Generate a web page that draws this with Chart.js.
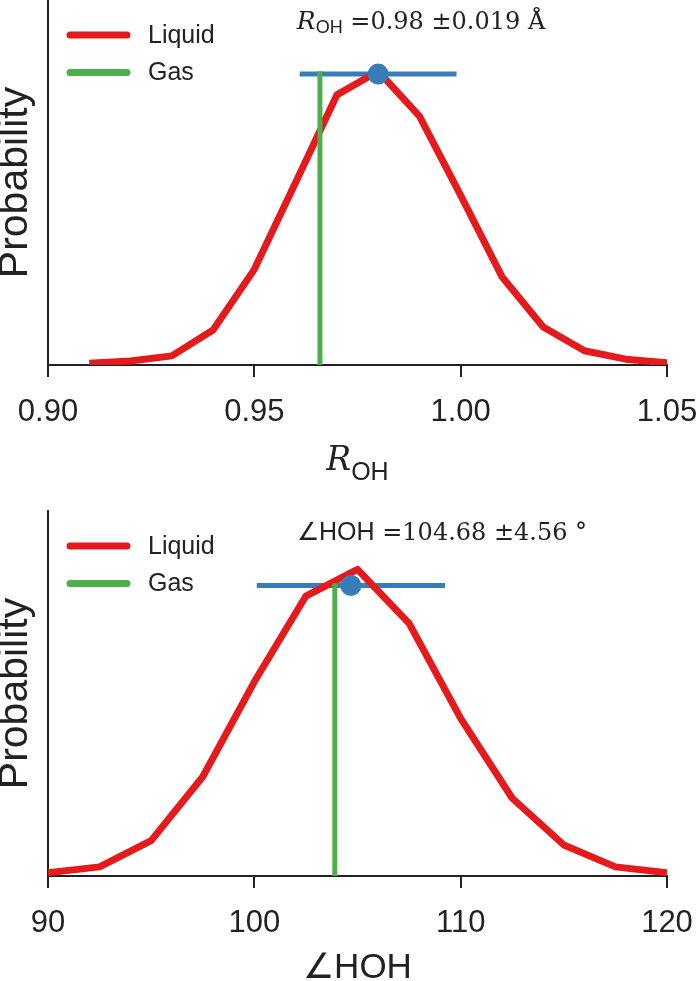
<!DOCTYPE html>
<html>
<head>
<meta charset="utf-8">
<script src="https://cdn.jsdelivr.net/npm/chart.js@4.4.1/dist/chart.umd.min.js"></script>
<style>
  html, body { margin: 0; padding: 0; background: #fff; }
  canvas { display: block; }
</style>
</head>
<body>
<canvas id="roh-chart" width="700" height="490"></canvas>
<canvas id="hoh-chart" width="700" height="491"></canvas>
<script>
// O-H bond length
const rohX = [0.91, 0.92, 0.93, 0.94, 0.95, 0.96, 0.97, 0.98, 0.99, 1.00, 1.01, 1.02, 1.03, 1.04, 1.05];
const rohLiquid = [0.005, 0.011, 0.025, 0.096, 0.262, 0.50, 0.74, 0.805, 0.682, 0.465, 0.242, 0.104, 0.039, 0.016, 0.006];
const rohTicks = [0.90, 0.95, 1.00, 1.05];
const rohGas = 0.9659;
const rohGasTop = 0.805;
const rohMean = 0.98;
const rohStd = 0.019;
const rohLevel = 0.797;

// H-O-H angle
const hohX = [90, 92.5, 95, 97.5, 100, 102.5, 105, 107.5, 110, 112.5, 115, 117.5, 120];
const hohLiquid = [0.009, 0.025, 0.097, 0.272, 0.532, 0.767, 0.840, 0.692, 0.432, 0.213, 0.085, 0.025, 0.009];
const hohTicks = [90, 100, 110, 120];
const hohGas = 103.9;
const hohGasTop = 0.802;
const hohMean = 104.68;
const hohStd = 4.56;
const hohLevel = 0.796;

const RED = '#e41a1c';
const GREEN = '#4daf4a';
const BLUE = '#377eb8';
const INK = '#222222';
const SANS = '"Liberation Sans", Arial, sans-serif';
const SERIF = '"DejaVu Serif", serif';

function drawSegments(ctx, x, y, segs, align) {
  let total = 0;
  const widths = segs.map(s => {
    ctx.font = s.font;
    const w = ctx.measureText(s.text).width;
    total += w;
    return w;
  });
  let cx = align === 'center' ? x - total / 2 : x;
  segs.forEach((s, i) => {
    ctx.font = s.font;
    ctx.fillText(s.text, cx, y + (s.dy || 0));
    cx += widths[i];
  });
}

function makeChart(id, xs, ys, ticks, gas, gasTop, mean, std, level, opts) {
  const notes = {
    id: 'notes',
    afterDraw(chart) {
      const ctx = chart.ctx;
      const area = chart.chartArea;
      const sx = chart.scales.x;
      const sy = chart.scales.y;
      ctx.save();
      // legend
      ['Liquid', 'Gas'].forEach((name, i) => {
        const ds = chart.data.datasets.find(d => d.label === name);
        const y = area.top + 35 + i * 37.5;
        ctx.strokeStyle = ds.borderColor;
        ctx.lineWidth = 7;
        ctx.lineCap = 'round';
        ctx.beginPath();
        ctx.moveTo(70, y);
        ctx.lineTo(127, y);
        ctx.stroke();
        ctx.fillStyle = INK;
        ctx.font = '25px ' + SANS;
        ctx.textBaseline = 'middle';
        ctx.textAlign = 'left';
        ctx.fillText(name, 148, y + 1);
      });
      // annotation
      ctx.textBaseline = 'alphabetic';
      ctx.fillStyle = INK;
      drawSegments(ctx, sx.getPixelForValue(opts.noteX), sy.getPixelForValue(0.92), opts.note, 'left');
      if (opts.xTitle) {
        drawSegments(ctx, (area.left + area.right) / 2, area.bottom + 105, opts.xTitle, 'center');
      }
      ctx.restore();
    }
  };

  return new Chart(document.getElementById(id), {
    type: 'scatter',
    data: {
      datasets: [
        {
          label: 'mean',
          data: [{x: mean, y: level}],
          pointRadius: 10.5,
          pointBorderWidth: 0,
          pointBackgroundColor: BLUE,
          showLine: false
        },
        {
          label: 'Gas',
          data: [{x: gas, y: 0}, {x: gas, y: gasTop}],
          borderColor: GREEN,
          borderWidth: 5,
          pointRadius: 0,
          showLine: true
        },
        {
          label: 'Liquid',
          data: xs.map((x, i) => ({x: x, y: ys[i]})),
          borderColor: RED,
          borderWidth: 7,
          borderJoinStyle: 'round',
          pointRadius: 0,
          showLine: true
        },
        {
          label: 'std',
          data: [{x: mean - std, y: level}, {x: mean + std, y: level}],
          borderColor: BLUE,
          borderWidth: 5,
          pointRadius: 0,
          showLine: true
        }
      ]
    },
    options: {
      responsive: false,
      animation: false,
      events: [],
      layout: { autoPadding: false, padding: { left: 0, right: 33, top: opts.top, bottom: 0 } },
      plugins: { legend: { display: false }, tooltip: { enabled: false } },
      scales: {
        x: {
          type: 'linear',
          min: ticks[0],
          max: ticks[ticks.length - 1],
          afterFit: s => { s.height = opts.xHeight; s.paddingLeft = 0; s.paddingRight = 0; },
          afterBuildTicks: s => { s.ticks = ticks.map(v => ({value: v})); },
          grid: { drawOnChartArea: false, drawTicks: true, tickLength: 12, color: INK, lineWidth: 2 },
          border: { display: true, color: INK, width: 2 },
          ticks: {
            color: INK,
            font: { family: SANS, size: 31 },
            padding: 17,
            maxRotation: 0,
            autoSkip: false,
            callback: v => opts.fmt(v)
          },
          title: opts.xText ? {
            display: true,
            text: opts.xText,
            color: INK,
            font: { family: SANS, size: 35, lineHeight: 1 },
            padding: { top: 0, bottom: -5 }
          } : { display: false }
        },
        y: {
          min: 0,
          max: 1,
          afterFit: s => { s.width = 48; s.paddingTop = 0; s.paddingBottom = 0; },
          grid: { display: false },
          border: { display: true, color: INK, width: 2 },
          ticks: { display: false },
          title: {
            display: true,
            text: 'Probability',
            color: INK,
            font: { family: SANS, size: 41, lineHeight: 1 },
            padding: { top: -5, bottom: 0 }
          }
        }
      }
    },
    plugins: [notes]
  });
}

makeChart('roh-chart', rohX, rohLiquid, rohTicks, rohGas, rohGasTop, rohMean, rohStd, rohLevel, {
  top: 0,
  xHeight: 125,
  fmt: v => v.toFixed(2),
  noteX: 0.9603,
  note: [
    { text: 'R', font: 'italic 25px ' + SERIF },
    { text: 'OH', font: '18px ' + SANS, dy: 4 },
    { text: ' =0.98 \u00b10.019 \u00c5', font: '24px ' + SERIF }
  ],
  xTitle: [
    { text: 'R', font: 'italic 33px ' + SERIF },
    { text: 'OH', font: '25px ' + SANS, dy: 10 }
  ]
});

makeChart('hoh-chart', hohX, hohLiquid, hohTicks, hohGas, hohGasTop, hohMean, hohStd, hohLevel, {
  top: 21,
  xHeight: 105,
  fmt: v => String(v),
  xText: '\u2220HOH',
  noteX: 102.07,
  note: [
    { text: '\u2220HOH', font: '25px ' + SANS },
    { text: ' =104.68 \u00b14.56 \u00b0', font: '24px ' + SERIF }
  ]
});
</script>
</body>
</html>
